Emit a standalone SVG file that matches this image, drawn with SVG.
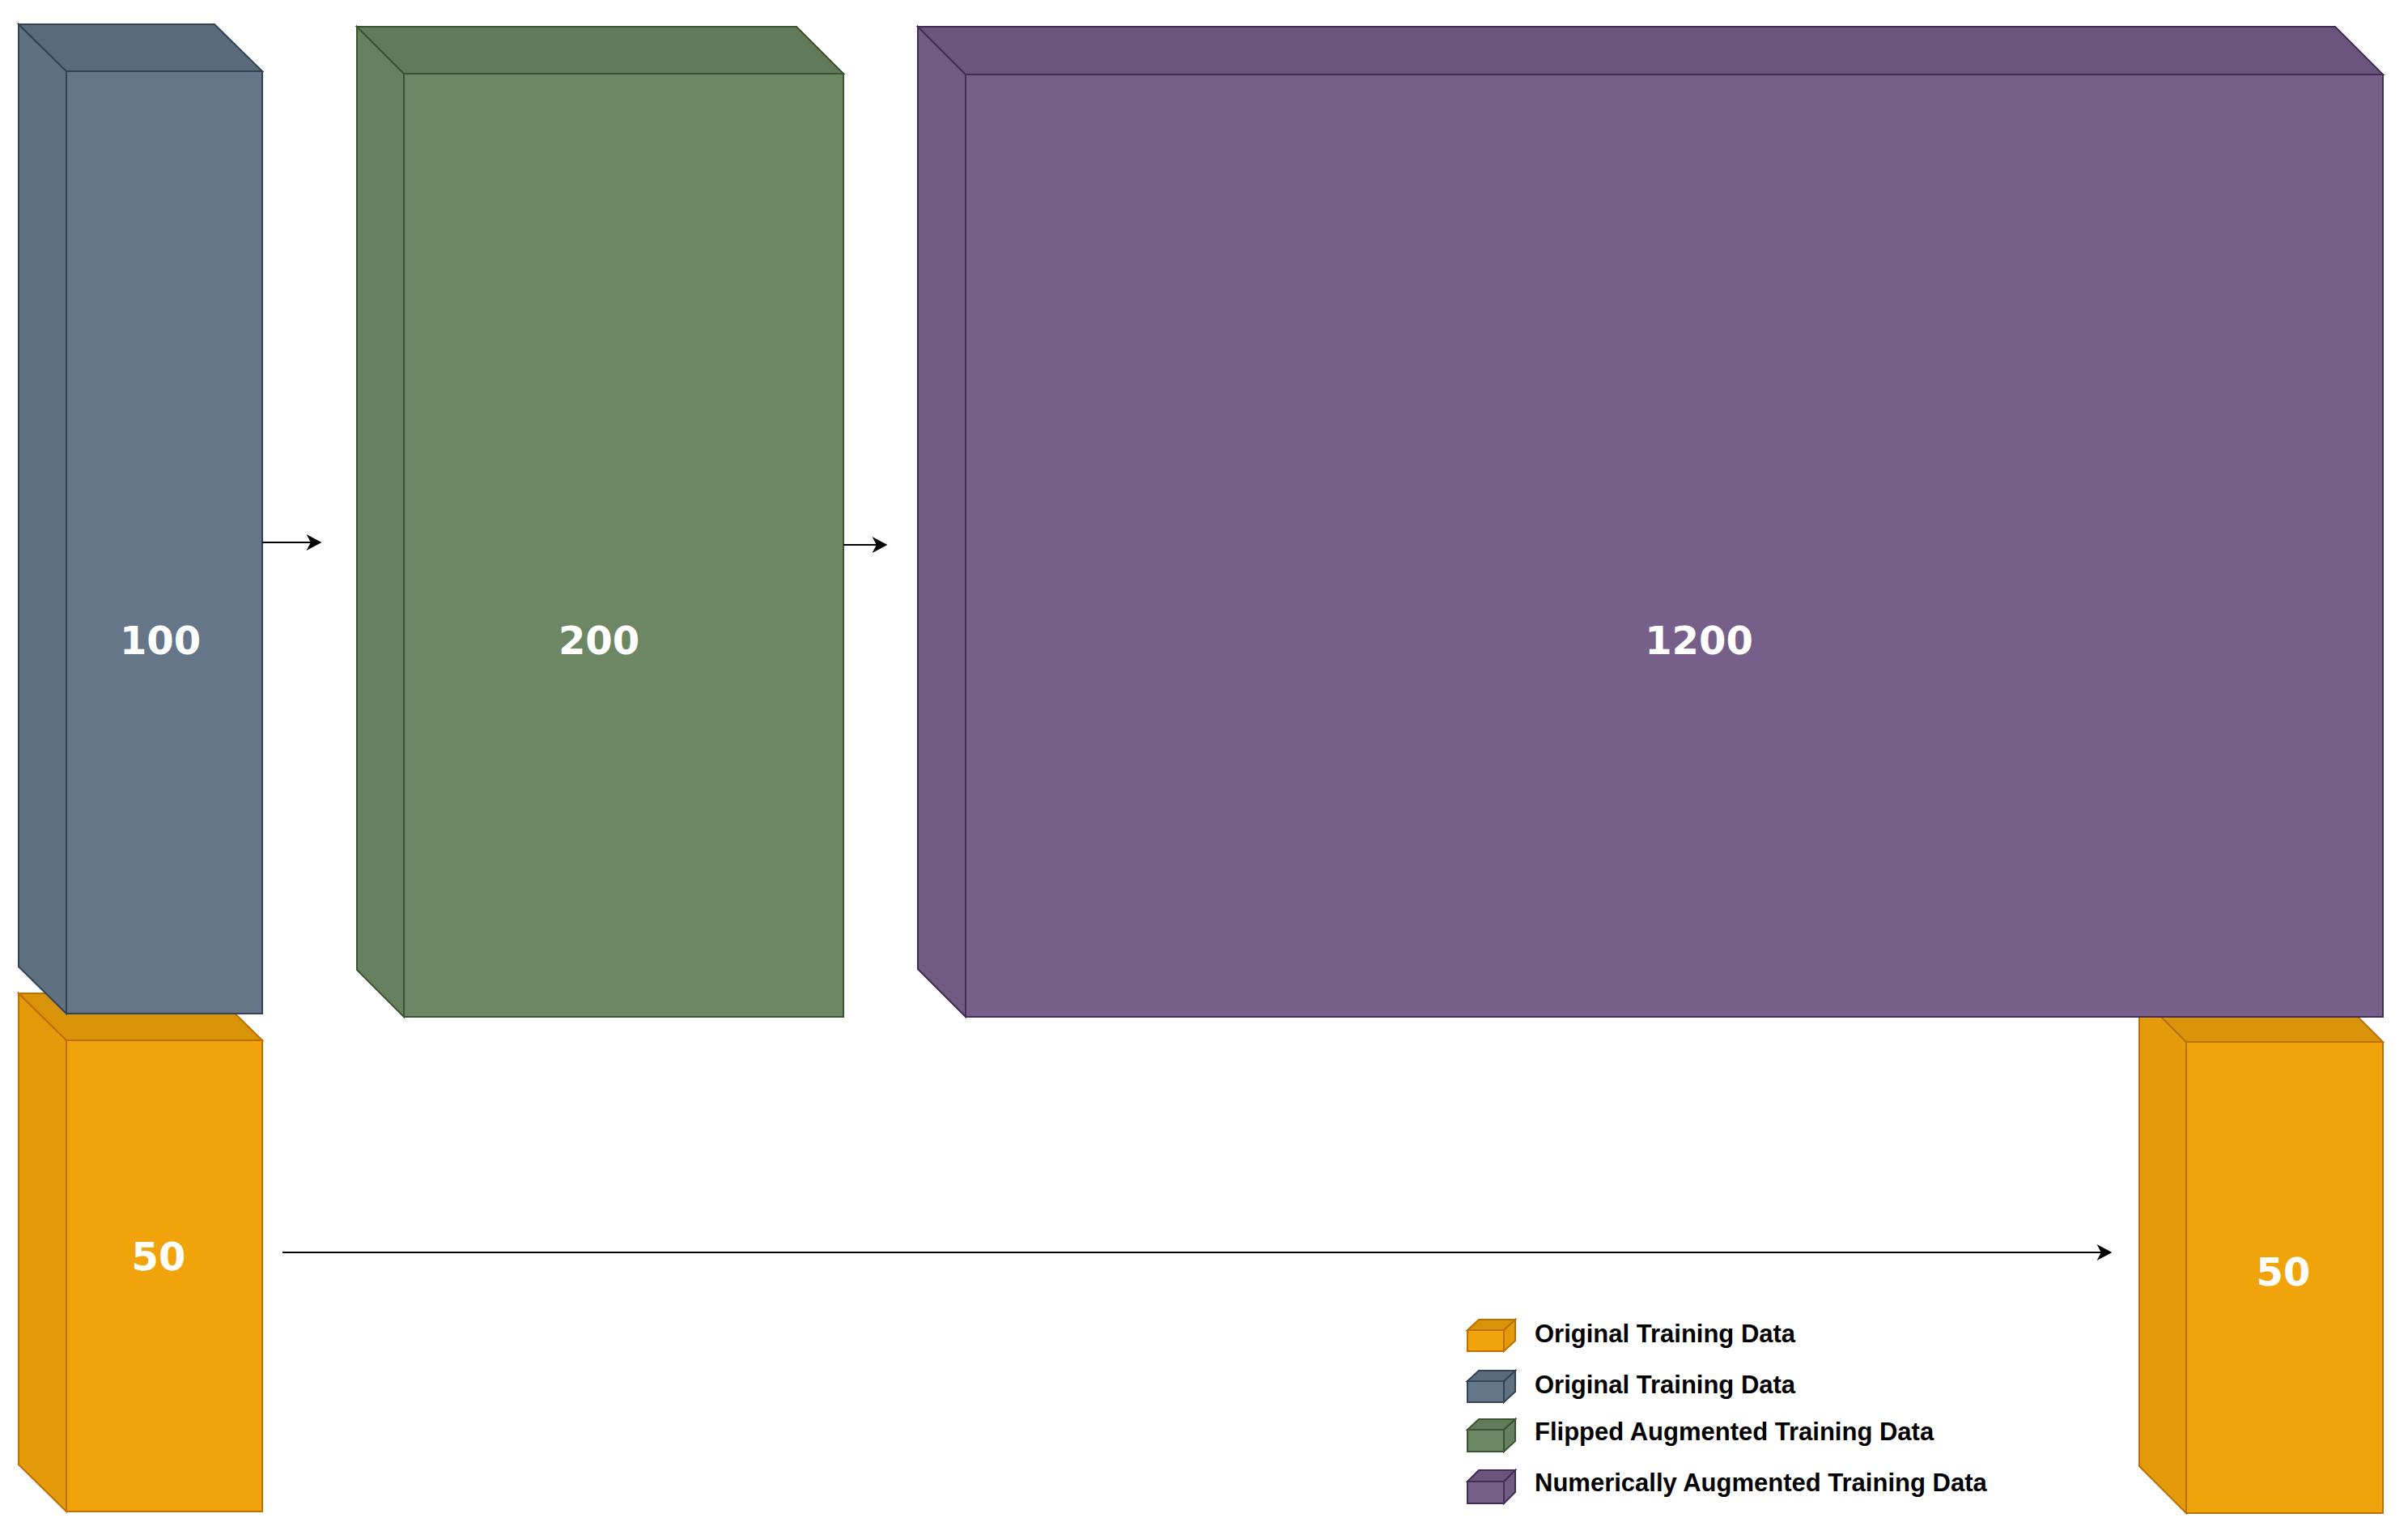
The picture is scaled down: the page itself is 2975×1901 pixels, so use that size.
<svg xmlns="http://www.w3.org/2000/svg" width="2975" height="1901" viewBox="0 0 2975 1901">
<style>
.lbl{font-family:"DejaVu Sans",Verdana,sans-serif;font-weight:bold;font-size:48px;fill:#ffffff;text-anchor:middle}
.leg{font-family:"Liberation Sans",Arial,sans-serif;font-weight:bold;font-size:31px;fill:#000000}
.blue .f{fill:#647687}.blue .s{fill:#5f7081}.blue .t{fill:#5a6a7a}.blue path{stroke:#314354}
.green .f{fill:#6d8764}.green .s{fill:#67805f}.green .t{fill:#627a5a}.green path{stroke:#3a5431}
.purple .f{fill:#76608a}.purple .s{fill:#705b83}.purple .t{fill:#6a567c}.purple path{stroke:#432d57}
.yellow .f{fill:#f0a30a}.yellow .s{fill:#e49b0a}.yellow .t{fill:#d89309}.yellow path{stroke:#bd7000}
.cn{fill:none;stroke:#000000;stroke-width:2}
</style>
<defs>
<marker id="arr" markerUnits="userSpaceOnUse" markerWidth="20" markerHeight="20" viewBox="0 0 16 17" refX="8" refY="8.5" orient="auto">
<path d="M0,0 L16,8.5 L0,17 L4.5,8.5 Z" fill="#000000"/>
</marker>
</defs>

<g id="node-yellow-left" class="yellow">
<path class="s" d="M23,1227 L82,1285 L82,1867 L23,1809 Z" stroke-width="2"/>
<path class="t" d="M23,1227 L265,1227 L324,1285 L82,1285 Z" stroke-width="2"/>
<path class="f" d="M82,1285 L324,1285 L324,1867 L82,1867 Z" stroke-width="2"/>
<text class="lbl" x="196" y="1569">50</text>
</g>

<g id="node-blue" class="blue">
<path class="s" d="M23,30 L82,88 L82,1252 L23,1194 Z" stroke-width="2"/>
<path class="t" d="M23,30 L265,30 L324,88 L82,88 Z" stroke-width="2"/>
<path class="f" d="M82,88 L324,88 L324,1252 L82,1252 Z" stroke-width="2"/>
<text class="lbl" x="198" y="808">100</text>
</g>

<g id="node-green" class="green">
<path class="s" d="M441,33 L499,91 L499,1256 L441,1198 Z" stroke-width="2"/>
<path class="t" d="M441,33 L984,33 L1042,91 L499,91 Z" stroke-width="2"/>
<path class="f" d="M499,91 L1042,91 L1042,1256 L499,1256 Z" stroke-width="2"/>
<text class="lbl" x="740" y="808">200</text>
</g>

<g id="node-yellow-right" class="yellow">
<path class="s" d="M2643,1229 L2701,1287 L2701,1869 L2643,1811 Z" stroke-width="2"/>
<path class="t" d="M2643,1229 L2886,1229 L2944,1287 L2701,1287 Z" stroke-width="2"/>
<path class="f" d="M2701,1287 L2944,1287 L2944,1869 L2701,1869 Z" stroke-width="2"/>
<text class="lbl" x="2821" y="1588">50</text>
</g>

<g id="node-purple" class="purple">
<path class="s" d="M1134,33 L1193,92 L1193,1256 L1134,1197 Z" stroke-width="2"/>
<path class="t" d="M1134,33 L2885,33 L2944,92 L1193,92 Z" stroke-width="2"/>
<path class="f" d="M1193,92 L2944,92 L2944,1256 L1193,1256 Z" stroke-width="2"/>
<text class="lbl" x="2099" y="808">1200</text>
</g>

<g id="connectors">
<line class="cn" x1="324" y1="670" x2="388" y2="670" marker-end="url(#arr)"/>
<line class="cn" x1="1042" y1="673" x2="1087" y2="673" marker-end="url(#arr)"/>
<line class="cn" x1="349" y1="1547" x2="2600" y2="1547" marker-end="url(#arr)"/>
</g>

<g id="legend">
<g id="legend-1" class="yellow">
<path class="s" d="M1858,1643 L1872,1630 L1872,1656 L1858,1669 Z" stroke-width="2"/>
<path class="t" d="M1813,1643 L1827,1630 L1872,1630 L1858,1643 Z" stroke-width="2"/>
<path class="f" d="M1813,1643 L1858,1643 L1858,1669 L1813,1669 Z" stroke-width="2"/>
<text class="leg" x="1896" y="1658">Original Training Data</text>
</g>
<g id="legend-2" class="blue">
<path class="s" d="M1858,1706 L1872,1693 L1872,1719 L1858,1732 Z" stroke-width="2"/>
<path class="t" d="M1813,1706 L1827,1693 L1872,1693 L1858,1706 Z" stroke-width="2"/>
<path class="f" d="M1813,1706 L1858,1706 L1858,1732 L1813,1732 Z" stroke-width="2"/>
<text class="leg" x="1896" y="1721">Original Training Data</text>
</g>
<g id="legend-3" class="green">
<path class="s" d="M1858,1766 L1872,1753 L1872,1780 L1858,1793 Z" stroke-width="2"/>
<path class="t" d="M1813,1766 L1827,1753 L1872,1753 L1858,1766 Z" stroke-width="2"/>
<path class="f" d="M1813,1766 L1858,1766 L1858,1793 L1813,1793 Z" stroke-width="2"/>
<text class="leg" x="1896" y="1779">Flipped Augmented Training Data</text>
</g>
<g id="legend-4" class="purple">
<path class="s" d="M1858,1830 L1872,1816 L1872,1843 L1858,1857 Z" stroke-width="2"/>
<path class="t" d="M1813,1830 L1827,1816 L1872,1816 L1858,1830 Z" stroke-width="2"/>
<path class="f" d="M1813,1830 L1858,1830 L1858,1857 L1813,1857 Z" stroke-width="2"/>
<text class="leg" x="1896" y="1842">Numerically Augmented Training Data</text>
</g>
</g>
</svg>
